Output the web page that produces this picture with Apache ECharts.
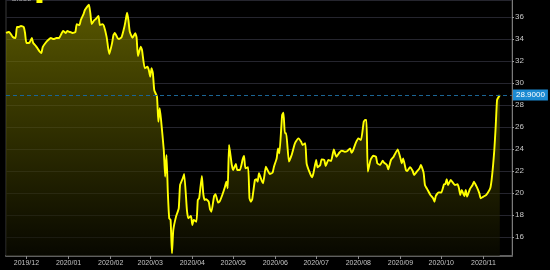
<!DOCTYPE html>
<html>
<head>
<meta charset="utf-8">
<script src="https://cdn.jsdelivr.net/npm/echarts@6/dist/echarts.min.js"></script>
<style>
html,body{margin:0;padding:0;background:#000;}
#c{width:550px;height:270px;}
</style>
</head>
<body>
<div id="c"></div>
<script>
const seriesName = 'Close';
const dates = [
'2019-11-16','2019-11-18','2019-11-19','2019-11-21','2019-11-23','2019-11-24','2019-11-25','2019-11-27','2019-11-29','2019-11-30',
'2019-12-01','2019-12-03','2019-12-05','2019-12-06','2019-12-08','2019-12-09','2019-12-11','2019-12-12','2019-12-13','2019-12-15',
'2019-12-17','2019-12-19','2019-12-21','2019-12-23','2019-12-25','2019-12-27','2019-12-28','2019-12-30','2019-12-31',
'2020-01-02','2020-01-04','2020-01-06','2020-01-07','2020-01-09','2020-01-10','2020-01-12','2020-01-13','2020-01-15','2020-01-16',
'2020-01-17','2020-01-18','2020-01-20','2020-01-21','2020-01-23','2020-01-24','2020-01-26','2020-01-27','2020-01-29','2020-01-30','2020-01-31',
'2020-02-02','2020-02-03','2020-02-04','2020-02-06','2020-02-07','2020-02-09','2020-02-11','2020-02-12','2020-02-13','2020-02-14',
'2020-02-15','2020-02-17','2020-02-19','2020-02-20','2020-02-21','2020-02-23','2020-02-24','2020-02-26','2020-02-28','2020-02-29',
'2020-03-01','2020-03-02','2020-03-03','2020-03-04','2020-03-06','2020-03-07','2020-03-08','2020-03-09','2020-03-11','2020-03-12',
'2020-03-13','2020-03-14','2020-03-15','2020-03-16','2020-03-17','2020-03-18','2020-03-20','2020-03-22','2020-03-23','2020-03-25',
'2020-03-26','2020-03-28','2020-03-29','2020-03-31',
'2020-04-01','2020-04-02','2020-04-04','2020-04-05','2020-04-06','2020-04-08','2020-04-09','2020-04-10','2020-04-11','2020-04-13',
'2020-04-14','2020-04-15','2020-04-17','2020-04-18','2020-04-20','2020-04-21','2020-04-23','2020-04-25','2020-04-26','2020-04-27',
'2020-04-28','2020-04-30',
'2020-05-01','2020-05-03','2020-05-04','2020-05-06','2020-05-08','2020-05-09','2020-05-10','2020-05-12','2020-05-13','2020-05-14',
'2020-05-15','2020-05-17','2020-05-18','2020-05-19','2020-05-20','2020-05-22','2020-05-23','2020-05-25','2020-05-26','2020-05-28',
'2020-05-30','2020-05-31',
'2020-06-02','2020-06-03','2020-06-04','2020-06-06','2020-06-07','2020-06-08','2020-06-09','2020-06-11','2020-06-13','2020-06-15',
'2020-06-16','2020-06-18','2020-06-20','2020-06-21','2020-06-23','2020-06-24','2020-06-26','2020-06-28','2020-06-29',
'2020-07-01','2020-07-02','2020-07-04','2020-07-05','2020-07-07','2020-07-08','2020-07-10','2020-07-12','2020-07-14','2020-07-15',
'2020-07-16','2020-07-18','2020-07-20','2020-07-22','2020-07-24','2020-07-26','2020-07-27','2020-07-28','2020-07-30',
'2020-08-01','2020-08-03','2020-08-05','2020-08-06','2020-08-07','2020-08-08','2020-08-10','2020-08-12','2020-08-14','2020-08-15',
'2020-08-17','2020-08-19','2020-08-20','2020-08-22','2020-08-23','2020-08-25','2020-08-27','2020-08-28','2020-08-30',
'2020-09-01','2020-09-02','2020-09-03','2020-09-05','2020-09-06','2020-09-08','2020-09-10','2020-09-11','2020-09-13','2020-09-15',
'2020-09-16','2020-09-18','2020-09-19','2020-09-21','2020-09-23','2020-09-25','2020-09-26','2020-09-27','2020-09-29',
'2020-10-01','2020-10-03','2020-10-04','2020-10-05','2020-10-06','2020-10-08','2020-10-09','2020-10-11','2020-10-13','2020-10-14',
'2020-10-15','2020-10-16','2020-10-18','2020-10-19','2020-10-20','2020-10-22','2020-10-24','2020-10-25','2020-10-27','2020-10-29','2020-10-30',
'2020-11-01','2020-11-03','2020-11-04','2020-11-06','2020-11-07','2020-11-08','2020-11-09','2020-11-10','2020-11-11','2020-11-12','2020-11-13'
];
const values = [
34.55,34.64,34.55,34.18,34.09,35.09,35.09,35.18,35.09,34.55,
33.64,33.64,34.09,33.64,33.36,33.18,32.82,32.73,33.27,33.64,
33.91,34.09,34.00,34.09,34.09,34.55,34.73,34.55,34.73,
34.64,34.55,34.64,35.36,35.27,35.73,36.27,36.64,37.00,37.12,
36.36,35.36,35.73,35.82,36.09,35.27,35.36,35.18,34.18,33.27,32.64,
33.64,34.36,34.55,34.09,34.00,34.18,35.09,35.73,36.39,35.73,
34.66,34.12,34.52,34.15,32.45,33.30,33.00,31.34,31.48,31.18,
30.57,31.34,30.88,29.36,28.75,26.48,27.70,26.64,23.91,21.48,
23.45,19.97,17.70,17.55,14.52,16.64,17.85,18.61,20.73,21.34,
21.73,18.45,17.70,17.91,
17.09,17.55,17.39,19.36,19.52,21.55,19.97,19.36,19.43,19.21,
18.52,18.30,19.73,19.88,19.12,19.21,19.82,20.57,21.03,20.43,
24.36,22.55,
22.09,22.64,22.09,22.09,23.06,23.36,22.25,22.34,19.52,19.21,
19.43,21.18,21.25,21.03,21.79,21.12,20.88,22.39,22.15,21.73,
21.85,22.39,
23.15,24.06,23.61,27.09,27.30,25.43,25.43,22.85,23.45,24.36,
24.66,24.97,24.66,24.36,24.52,22.70,21.94,21.43,21.79,
23.00,22.34,22.55,23.06,23.00,22.45,23.00,22.91,23.97,23.55,
23.30,23.66,23.85,23.75,23.82,24.06,23.66,23.82,24.52,
24.97,24.82,26.48,26.64,26.64,21.94,23.00,23.39,23.30,22.70,
22.55,22.94,22.75,22.55,22.15,23.00,23.30,23.55,23.97,
23.15,22.70,23.15,22.09,22.00,22.34,22.00,21.64,21.94,22.25,
22.55,21.85,20.73,20.27,19.82,19.52,19.21,19.73,20.06,
20.03,20.79,20.82,21.25,20.73,21.18,21.03,20.73,20.79,20.43,
19.82,20.27,19.73,20.27,19.67,20.34,20.73,21.03,20.57,19.97,19.52,
19.67,19.82,19.97,20.43,21.18,22.39,23.91,26.03,28.45,28.70,28.90
];
const xMin = '2019-11-16';
const xMax = '2020-11-22';
const yMin = 14.27;
const yMax = 37.55;

const chart = echarts.init(document.getElementById('c'), null, {renderer: 'canvas'});
const lastVal = values[values.length - 1];
const font = '"Liberation Sans Narrow", "Liberation Sans", Arial, sans-serif';

chart.setOption({
  backgroundColor: '#000',
  animation: false,
  legend: {
    left: 6, top: -10, itemWidth: 6, itemHeight: 8, align: 'right',
    textStyle: {color: '#aaa', fontSize: 8, fontFamily: font},
    data: [{name: seriesName, icon: 'rect'}]
  },
  grid: {left: 6, right: 38, top: 0, bottom: 14, show: true, borderColor: '#3a3a3a', borderWidth: 1, backgroundColor: 'transparent'},
  xAxis: {
    type: 'time', min: xMin, max: xMax,
    splitNumber: 12, minInterval: 28 * 86400000, maxInterval: 31 * 86400000,
    axisLine: {show: true, lineStyle: {color: '#5f5f5f', width: 2}},
    axisTick: {show: true, length: 3, lineStyle: {color: '#8a8a8a'}},
    axisLabel: {
      color: '#c4c4c4', fontSize: 7, fontFamily: font, margin: 4,
      showMinLabel: false, showMaxLabel: false,
      formatter: function (v) { const d = new Date(v); return d.getFullYear() + '/' + String(d.getMonth() + 1).padStart(2, '0'); }
    },
    splitLine: {show: false}
  },
  yAxis: {
    type: 'value', position: 'right', min: yMin, max: yMax,
    minInterval: 2, maxInterval: 2,
    axisLine: {show: true, lineStyle: {color: '#7a7a7a', width: 1}},
    axisTick: {show: true, length: 2, lineStyle: {color: '#9a9a9a'}},
    axisLabel: {color: '#c8c8c8', fontSize: 8, fontFamily: font, margin: 3, showMinLabel: false, showMaxLabel: false},
    splitLine: {show: true, lineStyle: {color: '#25252e', width: 1}}
  },
  series: [{
    name: seriesName,
    type: 'line',
    data: dates.map((d, i) => [d, values[i]]),
    showSymbol: false,
    smooth: 0.15,
    lineStyle: {color: '#ffff00', width: 1.9},
    itemStyle: {color: '#ffff00'},
    areaStyle: {
      color: new echarts.graphic.LinearGradient(0, 0, 0, 1, [
        {offset: 0, color: 'rgba(140,138,0,0.9)'},
        {offset: 1, color: 'rgba(12,12,0,0.9)'}
      ])
    },
    markLine: {
      silent: true, symbol: 'none',
      lineStyle: {color: '#1b6594', type: [4, 3], width: 1},
      label: {
        position: 'end', distance: 1, formatter: lastVal.toFixed(4),
        color: '#fff', backgroundColor: '#1c8ad2', padding: [2, 3, 1, 3],
        fontSize: 8, fontFamily: font
      },
      data: [{yAxis: lastVal}]
    }
  }]
});
</script>
</body>
</html>
